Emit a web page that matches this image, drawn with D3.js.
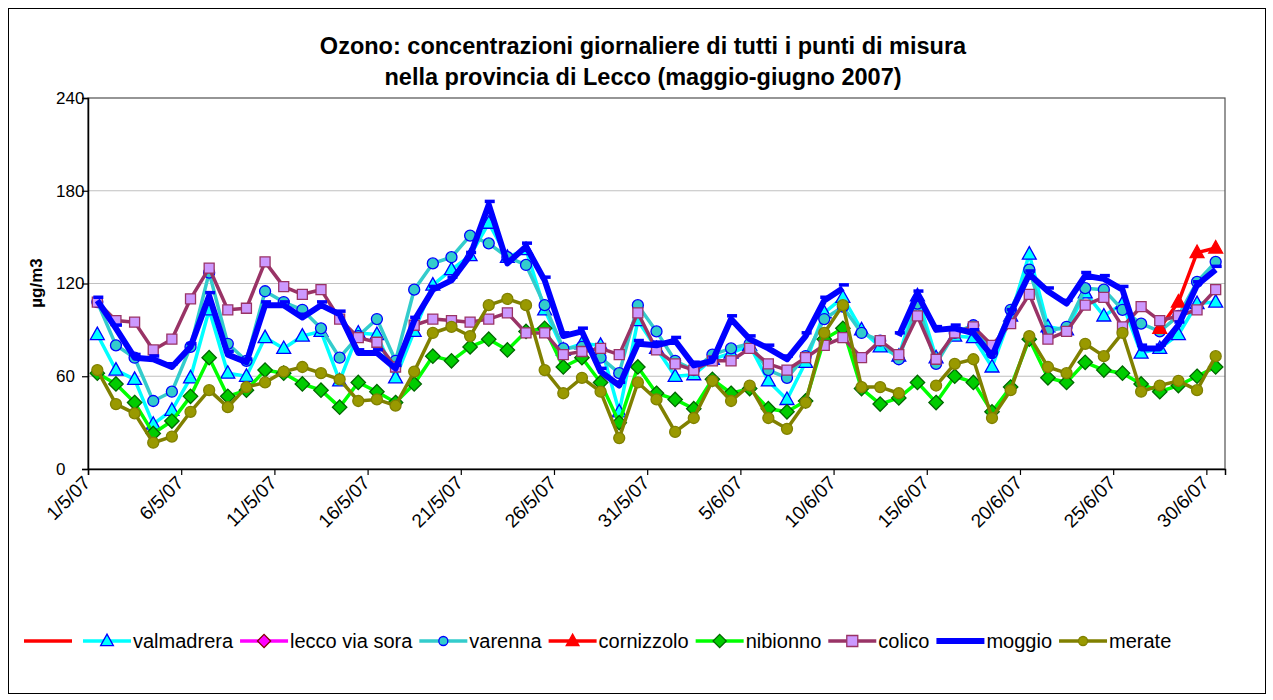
<!DOCTYPE html>
<html>
<head>
<meta charset="utf-8">
<script src="https://cdn.jsdelivr.net/npm/d3@7"></script>
<style>
  html, body { margin: 0; padding: 0; background: #ffffff; }
  svg { display: block; font-family: "Liberation Sans", Arial, sans-serif; }
</style>
</head>
<body>
<svg id="chart" width="1273" height="700"></svg>
<script>
// ---------- DATA ----------
const categories = [
  "1/5/07","2/5/07","3/5/07","4/5/07","5/5/07","6/5/07","7/5/07","8/5/07","9/5/07","10/5/07",
  "11/5/07","12/5/07","13/5/07","14/5/07","15/5/07","16/5/07","17/5/07","18/5/07","19/5/07","20/5/07",
  "21/5/07","22/5/07","23/5/07","24/5/07","25/5/07","26/5/07","27/5/07","28/5/07","29/5/07","30/5/07",
  "31/5/07","1/6/07","2/6/07","3/6/07","4/6/07","5/6/07","6/6/07","7/6/07","8/6/07","9/6/07",
  "10/6/07","11/6/07","12/6/07","13/6/07","14/6/07","15/6/07","16/6/07","17/6/07","18/6/07","19/6/07",
  "20/6/07","21/6/07","22/6/07","23/6/07","24/6/07","25/6/07","26/6/07","27/6/07","28/6/07","29/6/07",
  "30/6/07"
];
const tickLabels = ["1/5/07","6/5/07","11/5/07","16/5/07","21/5/07","26/5/07","31/5/07",
  "5/6/07","10/6/07","15/6/07","20/6/07","25/6/07","30/6/07"];
const yTicks = [0, 60, 120, 180, 240];

const N = null;
const unnamed = new Array(61).fill(null);
const valmadrera = [87,64,58,29,38,59,103,62,60,85,78,86,89,57,88,87,59,89,119,129,
  138,159,137,142,103,77,81,80,37,96,78,60,61,71,75,80,57,45,69,101,
  111,90,79,73,112,72,86,85,66,99,139,92,90,114,99,107,75,78,87,107,108];
const leccoViaSora = new Array(61).fill(null);
const varenna = [108,80,72,44,50,79,127,81,70,115,108,103,91,72,86,97,70,116,133,137,
  151,146,137,132,106,78,79,72,62,106,89,70,64,74,78,81,64,59,73,97,
  105,88,83,71,107,68,88,93,75,103,129,89,92,117,116,103,94,89,99,121,134];
const cornizzolo = [N,N,N,N,N,N,N,N,N,N,N,N,N,N,N,N,N,N,N,N,
  N,N,N,N,N,N,N,N,N,N,N,N,N,N,N,N,N,N,N,N,
  N,N,N,N,N,N,N,N,N,N,N,N,N,N,N,N,N,91,108,140,143];
const nibionno = [62,55,43,23,31,47,72,47,51,64,62,55,51,40,56,50,43,55,73,70,
  79,84,77,89,91,66,72,56,30,66,49,45,39,58,49,52,39,37,44,84,
  91,52,42,46,56,43,60,56,37,53,84,59,56,69,64,62,55,50,54,60,66];
const colico = [108,96,95,77,84,110,130,103,104,134,118,113,116,97,85,82,66,93,97,96,
  95,97,101,88,88,74,76,78,74,101,77,68,64,70,70,78,68,64,72,80,
  85,72,83,74,99,71,88,92,80,94,113,84,89,106,111,92,105,96,99,103,116];
const moggio = [109,91,72,71,66,79,112,74,69,106,106,98,106,100,75,75,65,96,116,122,
  138,171,133,144,122,86,89,63,54,81,80,83,67,70,97,84,78,71,86,109,
  117,N,N,86,113,90,91,88,73,101,126,115,107,125,123,116,78,78,93,119,129];
const merate = [64,42,36,17,21,37,51,40,53,56,63,66,62,58,44,45,41,63,88,92,
  86,106,110,106,64,49,59,50,20,56,45,24,33,57,44,54,33,26,43,88,
  106,53,53,49,N,54,68,71,33,51,86,66,62,81,73,88,50,54,57,51,73];

const seriesNames = ["", "valmadrera", "lecco via sora", "varenna", "cornizzolo", "nibionno", "colico", "moggio", "merate"];
const seriesValues = [unnamed, valmadrera, leccoViaSora, varenna, cornizzolo, nibionno, colico, moggio, merate];

// ---------- STYLES ----------
const styles = [
  {line: "#ff0000", width: 3.5, marker: "none"},
  {line: "#00ffff", width: 3.5, marker: "triangle", fill: "#00ffff", stroke: "#0000ff"},
  {line: "#ff00ff", width: 3.5, marker: "diamond", fill: "#ff00ff", stroke: "#800000"},
  {line: "#33cccc", width: 3.5, marker: "circle", fill: "#33cccc", stroke: "#0000ff"},
  {line: "#ff0000", width: 3.5, marker: "triangle", fill: "#ff0000", stroke: "#ff0000"},
  {line: "#00ff00", width: 3.5, marker: "diamond", fill: "#00cc00", stroke: "#006600"},
  {line: "#993366", width: 3.5, marker: "square", fill: "#cc99ff", stroke: "#993366"},
  {line: "#0000ff", width: 6, marker: "dash", fill: "#0000ff", stroke: "#0000ff"},
  {line: "#808000", width: 3.5, marker: "circle", fill: "#999900", stroke: "#808000"}
];

const FONT = "'Liberation Sans', Arial, sans-serif";
const svg = d3.select("#chart");

// outer frame
svg.append("rect").attr("x", 8.5).attr("y", 8.5).attr("width", 1257).attr("height", 685)
  .attr("fill", "#ffffff").attr("stroke", "#000000").attr("stroke-width", 1);

const L = 88, R = 1225, T = 98, B = 469;
const x = d3.scaleLinear().domain([0, categories.length]).range([L, R]);
const y = d3.scaleLinear().domain([0, 240]).range([B, T]);
const px = i => x(i + 0.5);

// gridlines
svg.append("g").selectAll("line").data(yTicks.filter(v => v > 0 && v < 240)).join("line")
  .attr("x1", L).attr("x2", R).attr("y1", d => y(d)).attr("y2", d => y(d))
  .attr("stroke", "#c0c0c0").attr("stroke-width", 1.2);

// plot border (top/right)
svg.append("rect").attr("x", L).attr("y", T).attr("width", R - L).attr("height", B - T)
  .attr("fill", "none").attr("stroke", "#505050").attr("stroke-width", 1.2);

// Y axis
const yAxis = d3.axisLeft(y).tickValues(yTicks).tickSize(6).tickFormat(d3.format("d"));
const gy = svg.append("g").attr("transform", `translate(${L},0)`).call(yAxis);
gy.select(".domain").attr("stroke", "#000").attr("stroke-width", 1.5);
gy.selectAll(".tick line").attr("stroke", "#000").attr("stroke-width", 1.2);
gy.selectAll(".tick text").attr("font-family", FONT).attr("font-size", 17).attr("fill", "#000")
  .attr("text-anchor", "start").attr("x", 56 - L);

// X axis
const tickIdx = tickLabels.map(t => categories.indexOf(t));
const xAxis = d3.axisBottom(x).tickValues(tickIdx).tickSize(6).tickFormat(d => categories[d]);
const gx = svg.append("g").attr("transform", `translate(0,${B})`).call(xAxis);
gx.select(".domain").attr("stroke", "#000").attr("stroke-width", 1.5);
gx.selectAll(".tick line").attr("stroke", "#000").attr("stroke-width", 1.2);
gx.selectAll(".tick text")
  .attr("font-family", FONT).attr("font-size", 19).attr("fill", "#000")
  .attr("text-anchor", "end").attr("dy", null).attr("y", 0)
  .attr("transform", "translate(3,15) rotate(-45)");

// markers
function markerPath(type, size) {
  const s = size;
  if (type === "triangle") return `M0,${-s*0.62}L${s*0.58},${s*0.42}L${-s*0.58},${s*0.42}Z`;
  if (type === "diamond") return `M0,${-s*0.6}L${s*0.6},0L0,${s*0.6}L${-s*0.6},0Z`;
  if (type === "square") return `M${-s/2},${-s/2}h${s}v${s}h${-s}Z`;
  return null;
}
function drawMarker(g, type, st, cx, cy, size) {
  if (type === "circle") {
    g.append("circle").attr("cx", cx).attr("cy", cy).attr("r", size / 2)
      .attr("fill", st.fill).attr("stroke", st.stroke).attr("stroke-width", 1.3);
  } else if (type === "dash") {
    g.append("rect").attr("x", cx - 4).attr("y", cy - 5).attr("width", 10).attr("height", 3.5)
      .attr("fill", st.fill);
  } else if (type !== "none") {
    g.append("path").attr("d", markerPath(type, size)).attr("transform", `translate(${cx},${cy})`)
      .attr("fill", st.fill).attr("stroke", st.stroke).attr("stroke-width", 1.3).attr("stroke-linejoin", "miter");
  }
}

const line = d3.line().defined(d => d.v !== null).x(d => px(d.i)).y(d => y(d.v));
const plot = svg.append("g");
seriesValues.forEach((vals, si) => {
  const st = styles[si];
  const pts = vals.map((v, i) => ({i, v}));
  const g = plot.append("g");
  g.append("path").datum(pts).attr("d", line).attr("fill", "none")
    .attr("stroke", st.line).attr("stroke-width", st.width).attr("stroke-linejoin", "round");
  pts.filter(d => d.v !== null).forEach(d => {
    const sz = st.marker === "circle" ? 11 : (st.marker === "square" ? 10 : 12);
    drawMarker(g, st.marker, st, px(d.i), y(d.v), sz);
  });
});

// Title
const title = svg.append("text").attr("x", 643).attr("text-anchor", "middle")
  .attr("font-family", FONT).attr("font-weight", "bold").attr("font-size", 23.5).attr("fill", "#000");
title.append("tspan").attr("x", 643).attr("y", 54).text("Ozono: concentrazioni giornaliere di tutti i punti di misura");
title.append("tspan").attr("x", 643).attr("y", 85).text("nella provincia di Lecco (maggio-giugno 2007)");

// Y axis title
svg.append("text").attr("transform", "translate(42,283) rotate(-90)").attr("text-anchor", "middle")
  .attr("font-family", FONT).attr("font-weight", "bold").attr("font-size", 17).attr("fill", "#000")
  .text("µg/m3");

// Legend
const leg = svg.append("g");
let lx = 24;
const ly = 641;
seriesNames.forEach((name, si) => {
  const st = styles[si];
  const g = leg.append("g");
  g.append("line").attr("x1", lx).attr("x2", lx + 48).attr("y1", ly).attr("y2", ly)
    .attr("stroke", st.line).attr("stroke-width", st.width);
  if (st.marker !== "dash") drawMarker(g, st.marker, st, lx + 24, ly, st.marker === "circle" ? 9 : 11);
  const t = g.append("text").attr("x", lx + 50).attr("y", ly + 7)
    .attr("font-family", FONT).attr("font-size", 20).attr("fill", "#000").text(name);
  const w = name ? t.node().getComputedTextLength() : 0;
  lx += 48 + 2 + w + (name ? 7 : 9);
});
</script>
</body>
</html>
